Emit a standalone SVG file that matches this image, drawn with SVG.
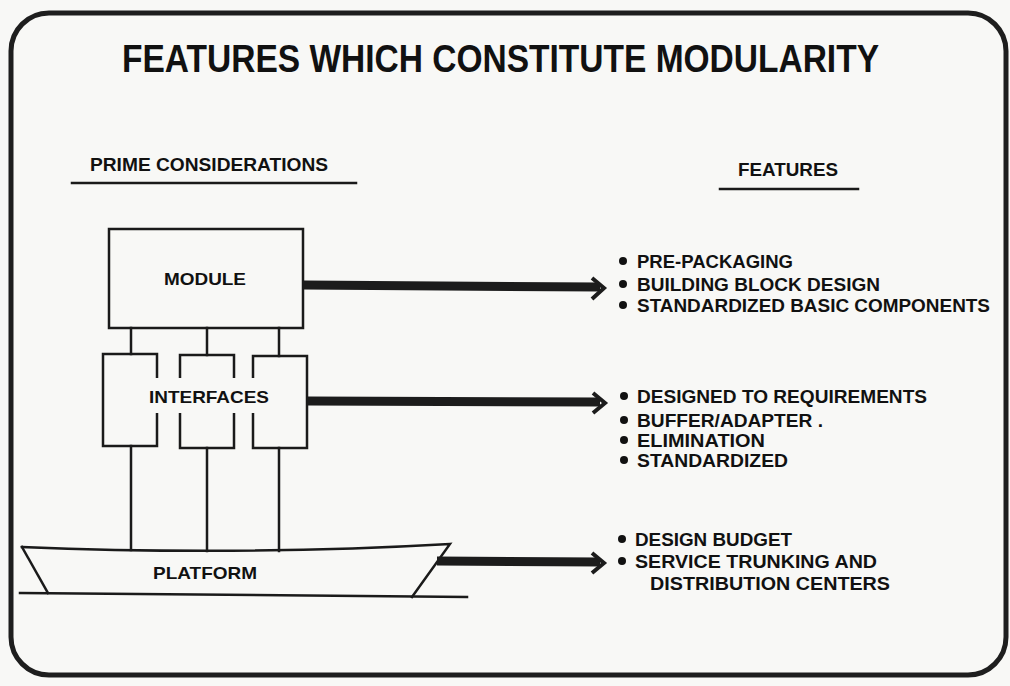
<svg xmlns="http://www.w3.org/2000/svg" width="1010" height="686" viewBox="0 0 1010 686">
<defs>
<style>
.ln{fill:none;stroke:#1a1a1a;stroke-width:2.5;stroke-linecap:square}
.box{fill:none;stroke:#1a1a1a;stroke-width:2.5}
.t{font-family:"Liberation Sans",Arial,sans-serif;font-weight:bold;fill:#111}
.lbl{font-size:17px}
.hd{font-size:18px}
.ft{font-size:18px}
.shaft{stroke:#1c1c1c;stroke-width:9;fill:none}
.head{stroke:#1c1c1c;stroke-width:4;fill:none;stroke-linejoin:miter}
.dot{fill:#111}
</style>
</defs>
<rect width="1010" height="686" fill="#f8f8f6"/>
<rect x="11" y="13" width="995" height="662" rx="38" fill="none" stroke="#1e1e1e" stroke-width="5"/>
<text class="t" x="122" y="72" font-size="39" textLength="757" lengthAdjust="spacingAndGlyphs">FEATURES WHICH CONSTITUTE MODULARITY</text>

<g id="header-left">
<text class="t hd" x="90" y="171" textLength="238" lengthAdjust="spacingAndGlyphs">PRIME CONSIDERATIONS</text>
<line class="ln" x1="72" y1="183" x2="356" y2="183"/>
</g>
<g id="header-right">
<text class="t hd" x="738" y="176" textLength="100" lengthAdjust="spacingAndGlyphs">FEATURES</text>
<line class="ln" x1="720" y1="189" x2="858" y2="189"/>
</g>

<g id="module">
<rect class="box" x="109" y="229" width="194" height="99"/>
<text class="t lbl" x="205" y="285" text-anchor="middle" textLength="82" lengthAdjust="spacingAndGlyphs">MODULE</text>
</g>

<g id="interfaces">
<rect class="box" x="103" y="354" width="54" height="92"/>
<rect class="box" x="180" y="355" width="54" height="93"/>
<rect class="box" x="253" y="356" width="54" height="92"/>
<rect x="146" y="378" width="126" height="35" fill="#f8f8f6"/>
<text class="t lbl" x="149" y="403" textLength="120" lengthAdjust="spacingAndGlyphs">INTERFACES</text>
</g>

<g id="platform">
<path class="ln" d="M22 547 Q240 556 450 544 L412 597"/>
<line class="ln" x1="22" y1="547" x2="48" y2="593"/>
<line class="ln" x1="20" y1="593" x2="467" y2="597"/>
<text class="t lbl" x="153" y="579" textLength="104" lengthAdjust="spacingAndGlyphs">PLATFORM</text>
</g>

<g id="connectors">
<line class="ln" x1="131" y1="328" x2="131" y2="354"/>
<line class="ln" x1="207" y1="328" x2="207" y2="355"/>
<line class="ln" x1="279" y1="328" x2="279" y2="356"/>
<line class="ln" x1="131" y1="446" x2="131" y2="550"/>
<line class="ln" x1="207" y1="448" x2="207" y2="551"/>
<line class="ln" x1="279" y1="448" x2="279" y2="551"/>
<line class="shaft" x1="304" y1="285" x2="600" y2="287"/>
<polyline class="head" points="592,278 604,288 592,299"/>
<line class="shaft" x1="308" y1="401" x2="600" y2="402"/>
<polyline class="head" points="593,393 605,403 593,413"/>
<line class="shaft" x1="437" y1="561" x2="600" y2="562"/>
<polyline class="head" points="592,553 604,563 592,573"/>
</g>

<g id="features-module">
<circle class="dot" cx="623" cy="261" r="4"/>
<circle class="dot" cx="623" cy="284" r="4"/>
<circle class="dot" cx="623" cy="305" r="4"/>
<text class="t ft" x="637" y="268" textLength="156" lengthAdjust="spacingAndGlyphs">PRE-PACKAGING</text>
<text class="t ft" x="637" y="291" textLength="243" lengthAdjust="spacingAndGlyphs">BUILDING BLOCK DESIGN</text>
<text class="t ft" x="637" y="312" textLength="353" lengthAdjust="spacingAndGlyphs">STANDARDIZED BASIC COMPONENTS</text>
</g>

<g id="features-interfaces">
<circle class="dot" cx="624" cy="396" r="4"/>
<circle class="dot" cx="624" cy="420" r="4"/>
<circle class="dot" cx="624" cy="440" r="4"/>
<circle class="dot" cx="624" cy="460" r="4"/>
<text class="t ft" x="637" y="403" textLength="290" lengthAdjust="spacingAndGlyphs">DESIGNED TO REQUIREMENTS</text>
<text class="t ft" x="637" y="427" textLength="186" lengthAdjust="spacingAndGlyphs">BUFFER/ADAPTER .</text>
<text class="t ft" x="637" y="447" textLength="128" lengthAdjust="spacingAndGlyphs">ELIMINATION</text>
<text class="t ft" x="637" y="467" textLength="151" lengthAdjust="spacingAndGlyphs">STANDARDIZED</text>
</g>

<g id="features-platform">
<circle class="dot" cx="622" cy="539" r="4"/>
<circle class="dot" cx="622" cy="561" r="4"/>
<text class="t ft" x="635" y="546" textLength="157" lengthAdjust="spacingAndGlyphs">DESIGN BUDGET</text>
<text class="t ft" x="635" y="568" textLength="242" lengthAdjust="spacingAndGlyphs">SERVICE TRUNKING AND</text>
<text class="t ft" x="650" y="590" textLength="240" lengthAdjust="spacingAndGlyphs">DISTRIBUTION CENTERS</text>
</g>
</svg>
